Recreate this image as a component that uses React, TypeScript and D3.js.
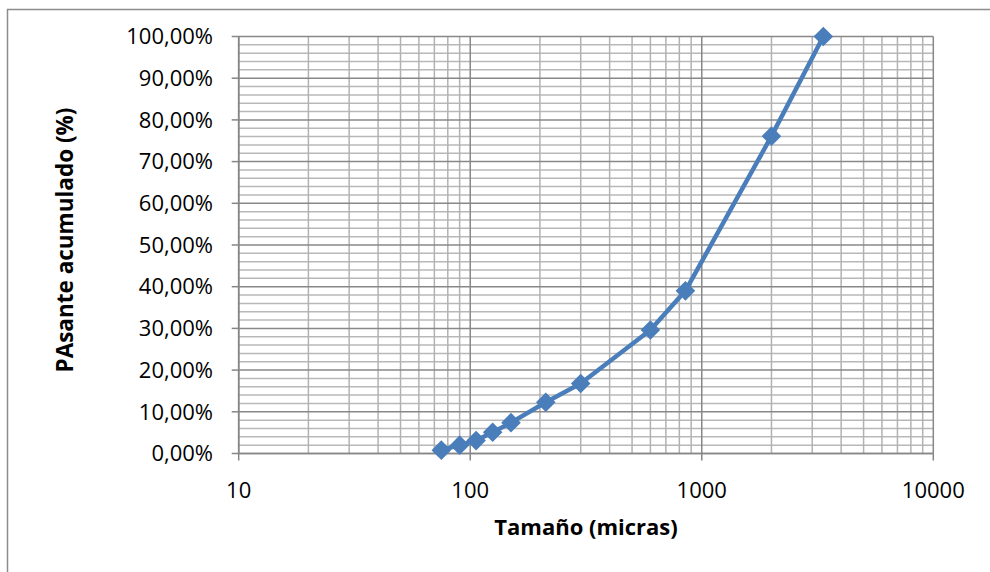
import React from "react";
import * as d3 from "d3";

// Granulometric curve: cumulative passing vs particle size
const sizes = [75, 90, 106, 125, 150, 212, 300, 600, 850, 2000, 3350];
const passing = [0.8, 2.0, 3.1, 5.1, 7.4, 12.3, 16.8, 29.6, 39.0, 76.1, 100.0];
const xTicks = [10, 100, 1000, 10000];
const yTicks = [0, 10, 20, 30, 40, 50, 60, 70, 80, 90, 100];

const W = 990;
const H = 572;
const M = { left: 238.7, right: 933.3, top: 36.5, bottom: 453.5 };
const FONT = "'Open Sans', 'Liberation Sans', sans-serif";

export default function App() {
  const x = d3.scaleLog().domain([10, 10000]).range([M.left, M.right]);
  const y = d3.scaleLinear().domain([0, 100]).range([M.bottom, M.top]);

  // minor vertical grid at 2..9 × each decade
  const minorX: number[] = [];
  for (let d = 10; d < 10000; d *= 10) {
    for (let k = 2; k <= 9; k++) minorX.push(d * k);
  }
  // minor horizontal grid every 2 %
  const minorY = d3.range(0, 101, 2).filter((v) => v % 10 !== 0);

  const line = d3
    .line<number>()
    .x((_, i) => x(sizes[i]))
    .y((d) => y(d));

  const diamond = d3.symbol().type(d3.symbolDiamond2).size(245)();

  return (
    <svg
      width={W}
      height={H}
      style={{ position: "absolute", left: 0, top: 0, background: "#fff" }}
      fontFamily={FONT}
    >
      <rect x={7.5} y={9.5} width={W} height={H} fill="#fff" stroke="#8c8c8c" strokeWidth={1.5} />

      {/* minor grid */}
      {minorY.map((v) => (
        <line key={"my" + v} x1={M.left} x2={M.right} y1={y(v)} y2={y(v)} stroke="#b8b8b8" strokeWidth={1.5} />
      ))}
      {minorX.map((v) => (
        <line key={"mx" + v} x1={x(v)} x2={x(v)} y1={M.top} y2={M.bottom} stroke="#b2b2b2" strokeWidth={1.5} />
      ))}
      {/* major grid */}
      {yTicks.map((v) => (
        <line key={"gy" + v} x1={M.left} x2={M.right} y1={y(v)} y2={y(v)} stroke="#888" strokeWidth={1.5} />
      ))}
      {xTicks.map((v) => (
        <line key={"gx" + v} x1={x(v)} x2={x(v)} y1={M.top} y2={M.bottom} stroke="#888" strokeWidth={1.5} />
      ))}

      {/* axes */}
      <line x1={M.left} x2={M.left} y1={M.top} y2={M.bottom} stroke="#868686" strokeWidth={1.6} />
      <line x1={M.left} x2={M.right} y1={M.bottom} y2={M.bottom} stroke="#868686" strokeWidth={1.6} />
      {yTicks.map((v) => (
        <line key={"ty" + v} x1={M.left - 7} x2={M.left} y1={y(v)} y2={y(v)} stroke="#868686" strokeWidth={1.5} />
      ))}
      {xTicks.map((v) => (
        <line key={"tx" + v} x1={x(v)} x2={x(v)} y1={M.bottom} y2={M.bottom + 7} stroke="#868686" strokeWidth={1.5} />
      ))}

      {/* tick labels */}
      {yTicks.map((v) => (
        <text key={"ly" + v} x={213} y={y(v)} dy="0.35em" textAnchor="end" fontSize={22} fill="#000">
          {v.toFixed(2).replace(".", ",") + "%"}
        </text>
      ))}
      {xTicks.map((v) => (
        <text key={"lx" + v} x={x(v)} y={490} dy="0.35em" textAnchor="middle" fontSize={22} fill="#000">
          {String(v)}
        </text>
      ))}

      {/* axis titles */}
      <text x={586} y={527} dy="0.35em" textAnchor="middle" fontSize={22} fontWeight="bold" fill="#000">
        Tamaño (micras)
      </text>
      <text
        transform={`translate(65, 240) rotate(-90)`}
        dy="0.35em"
        textAnchor="middle"
        fontSize={22.5}
        fontWeight="bold"
        fill="#000"
      >
        PAsante acumulado (%)
      </text>

      {/* series */}
      <path d={line(passing) || ""} fill="none" stroke="#4a7ebb" strokeWidth={4.5} strokeLinejoin="round" />
      {passing.map((v, i) => (
        <path key={"p" + i} d={diamond || ""} transform={`translate(${x(sizes[i])},${y(v)})`} fill="#4a7ebb" />
      ))}
    </svg>
  );
}
